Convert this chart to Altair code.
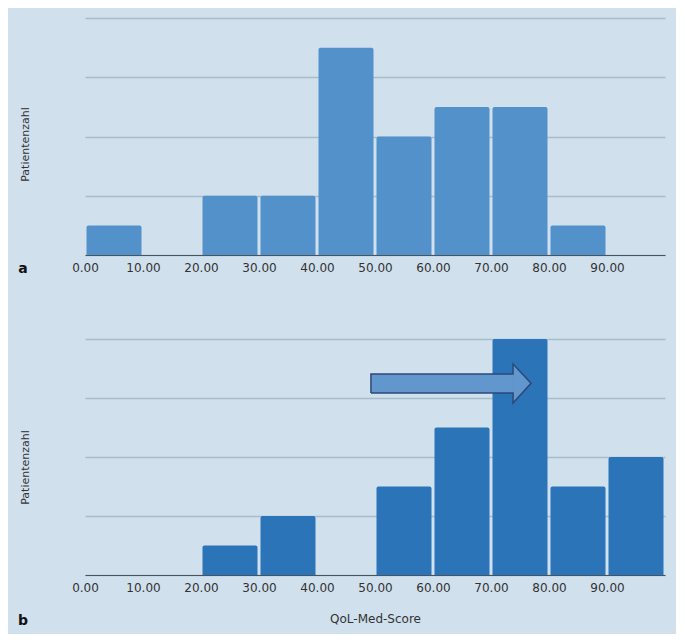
import altair as alt
import pandas as pd

bin_start = [0, 10, 20, 30, 40, 50, 60, 70, 80, 90]
bin_end = [10, 20, 30, 40, 50, 60, 70, 80, 90, 100]
counts_a = [1, 0, 2, 2, 7, 4, 5, 5, 1, 0]
counts_b = [0, 0, 1, 2, 0, 3, 5, 8, 3, 4]
tick_values = [0, 10, 20, 30, 40, 50, 60, 70, 80, 90]
grid_values = [0, 2, 4, 6, 8]

# arrow annotation (data coordinates)
arrow_body_x = [49.3, 73.8]
arrow_body_y = [6.17, 6.81]
arrow_head_x = [73.8, 76.9]
arrow_head_y = [5.83, 6.5]
arrow_head_y2 = [7.15, 6.5]
arrow_outline_x = [49.3, 49.3, 73.8, 73.8, 76.9, 73.8, 73.8, 49.3]
arrow_outline_y = [6.17, 6.81, 6.81, 7.15, 6.5, 5.83, 6.17, 6.17]

BG = "#d0e0ed"
W = 580
FONT = "DejaVu Sans"

X_SCALE = alt.Scale(domain=[0, 100], nice=False, zero=False)
Y_SCALE = alt.Scale(domain=[0, 8], nice=False, padding=0)


def x_axis(show_title):
    return alt.Axis(
        values=tick_values, format=".2f", grid=False, ticks=False,
        labelFlush=False,
        domainColor="#4a545e", domainWidth=1.2, labelColor="#333333",
        labelFont=FONT, labelFontSize=12, labelPadding=7,
        title="QoL-Med-Score" if show_title else None,
        titleFont=FONT, titleFontSize=12, titleFontWeight="normal",
        titleColor="#333333", titlePadding=20,
    )


def y_axis(title_y):
    return alt.Axis(values=grid_values, labels=False, ticks=False,
                    domain=False, grid=True, gridColor="#a9bccc",
                    gridWidth=1.3, title="Patientenzahl",
                    titleFont=FONT, titleFontSize=11,
                    titleFontWeight="normal", titleColor="#333333",
                    titlePadding=55, titleY=title_y)


def panel(counts, color, label, show_title, title_y, label_y):
    df = pd.DataFrame({"start": bin_start, "end": bin_end, "n": counts})
    df = df[df["n"] > 0].reset_index(drop=True)
    xa = x_axis(show_title)
    ya = y_axis(title_y)
    bars = alt.Chart(df).mark_bar(
        color=color, xOffset=1.5, x2Offset=-1.5,
        cornerRadiusTopLeft=2, cornerRadiusTopRight=2
    ).encode(
        x=alt.X("start:Q", scale=X_SCALE, axis=xa),
        x2="end:Q",
        y=alt.Y("n:Q", scale=Y_SCALE, axis=ya),
        y2=alt.datum(0),
    )
    lab = alt.Chart(pd.DataFrame({"t": [label]})).mark_text(
        font=FONT, fontSize=14, fontWeight="bold", color="#111111",
        align="center", baseline="alphabetic"
    ).encode(text="t:N", x=alt.value(-62), y=alt.value(label_y))
    return bars, lab, xa, ya


bars_a, lab_a, _, _ = panel(counts_a, "#5391cb", "a", False, 126, 255)
chart_a = alt.layer(bars_a, lab_a).properties(width=W, height=237)

bars_b, lab_b, xa_b, ya_b = panel(counts_b, "#2a74b7", "b", True, 128, 286)

body = pd.DataFrame({"x": [arrow_body_x[0]], "x2": [arrow_body_x[1]],
                     "y": [arrow_body_y[0]], "y2": [arrow_body_y[1]]})
head = pd.DataFrame({"x": arrow_head_x, "y": arrow_head_y, "y2": arrow_head_y2})
outline = pd.DataFrame({"x": arrow_outline_x, "y": arrow_outline_y,
                        "o": list(range(len(arrow_outline_x)))})

arrow_fill = "#6197cd"
arrow_stroke = "#2c4878"
body_l = alt.Chart(body).mark_rect(color=arrow_fill).encode(
    x=alt.X("x:Q", scale=X_SCALE, axis=xa_b), x2="x2:Q",
    y=alt.Y("y:Q", scale=Y_SCALE, axis=ya_b), y2="y2:Q")
head_l = alt.Chart(head).mark_area(color=arrow_fill, opacity=1).encode(
    x=alt.X("x:Q", scale=X_SCALE, axis=xa_b),
    y=alt.Y("y:Q", scale=Y_SCALE, axis=ya_b), y2="y2:Q")
outline_l = alt.Chart(outline).mark_line(color=arrow_stroke, strokeWidth=1.5,
                                         strokeJoin="miter").encode(
    x=alt.X("x:Q", scale=X_SCALE, axis=xa_b),
    y=alt.Y("y:Q", scale=Y_SCALE, axis=ya_b), order="o:Q")

chart_b = alt.layer(bars_b, body_l, head_l, outline_l, lab_b).properties(
    width=W, height=236)

chart = alt.vconcat(chart_a, chart_b, spacing=63).properties(
    background=BG,
    padding={"left": 9, "top": 10, "right": 11, "bottom": 6},
).configure_view(stroke=None)

chart.save("out.html", embed_options={"renderer": "svg", "actions": False})
